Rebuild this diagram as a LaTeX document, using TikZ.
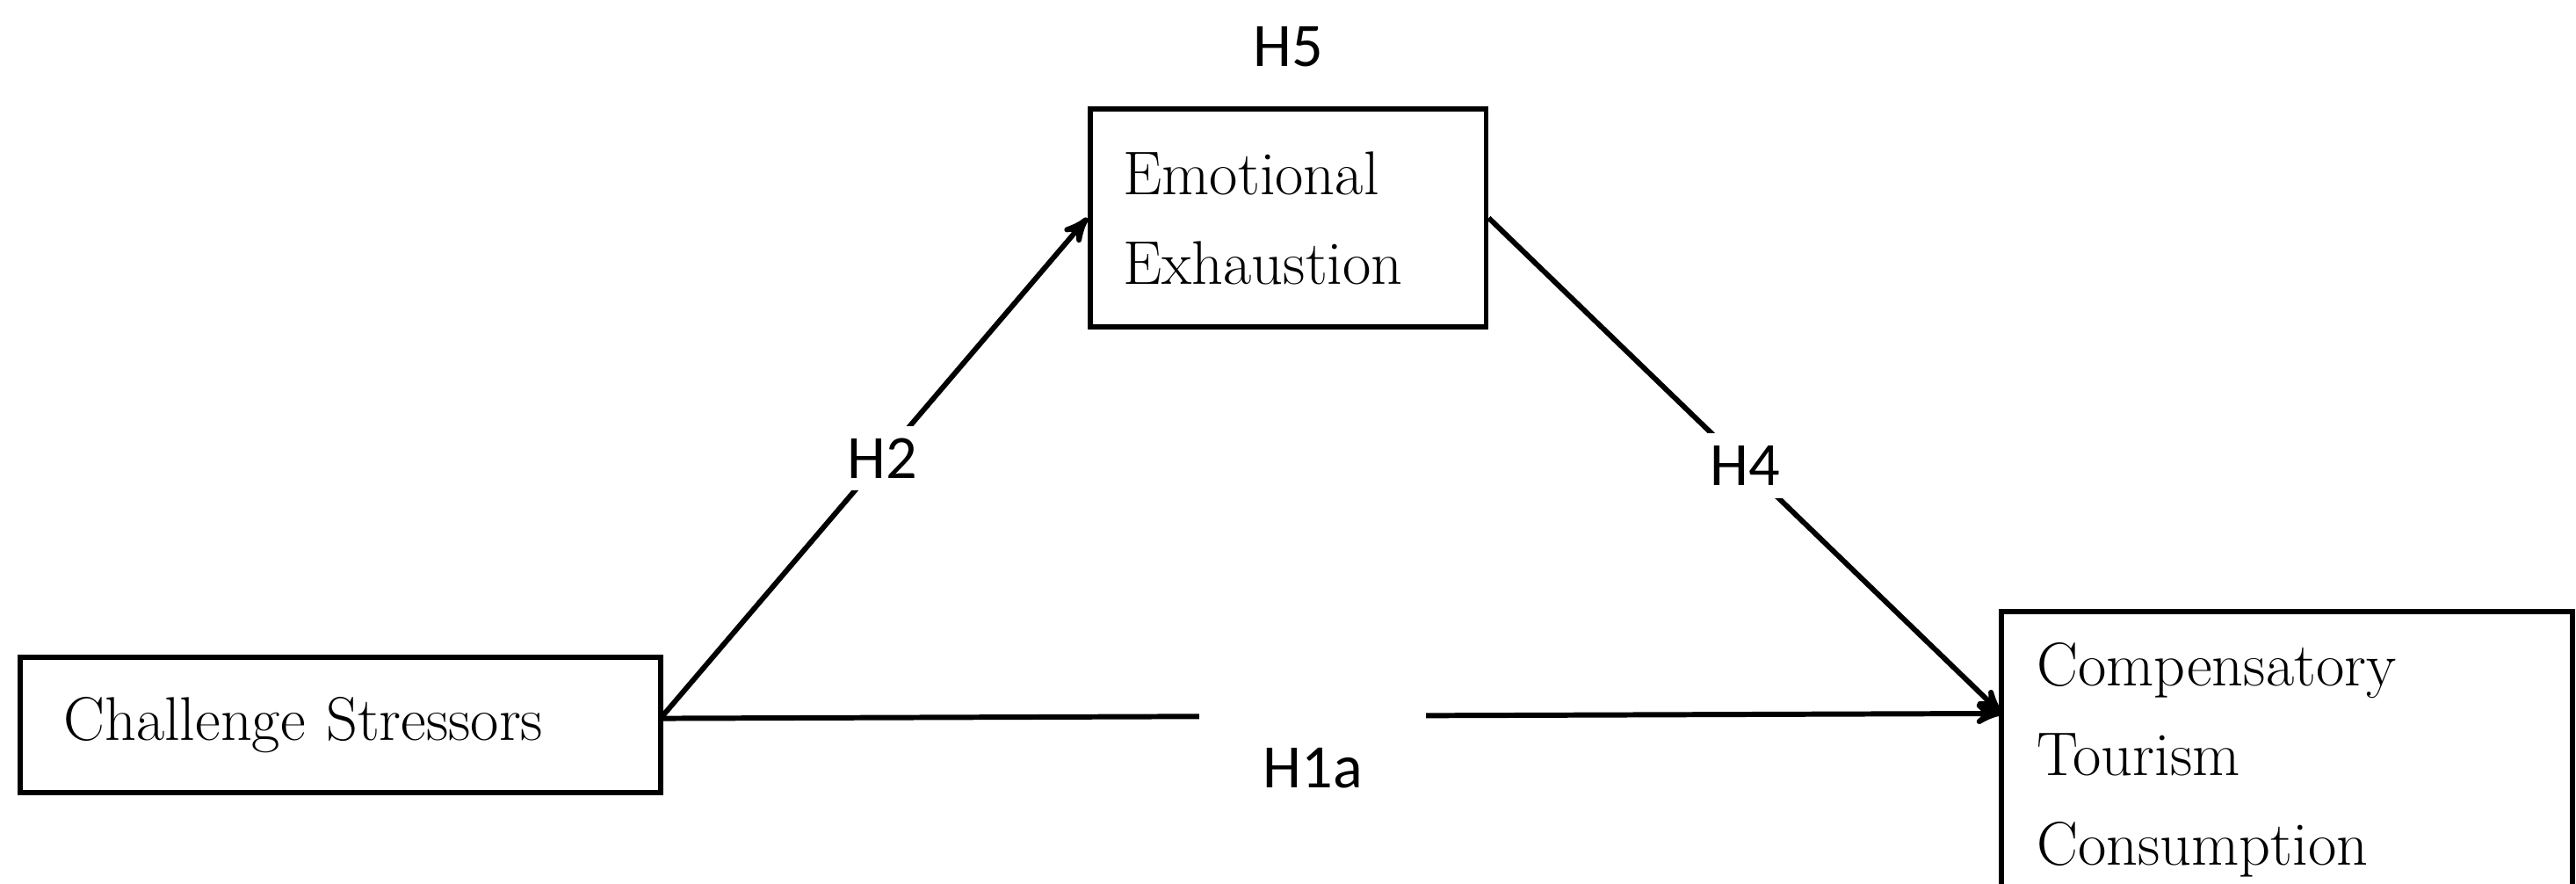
\documentclass[tikz,border=0pt]{standalone}
\usepackage{fontspec}
\newfontfamily\hfont{Carlito}
\usetikzlibrary{arrows, positioning}
\begin{document}
\begin{tikzpicture}[x=0.0188cm,y=-0.0188cm]
		\tikzstyle{Box} = [rectangle, draw=black, line width=1.7pt, align=left, font=\fontsize{20}{29}\selectfont, inner sep=0pt]
		\tikzstyle{Hyp} = [font=\hfont\fontsize{20}{24}\selectfont, fill=white, inner sep=4pt]
		\tikzstyle{arrow} = [line width=1.7pt,->,>=stealth']
		\useasboundingbox (0,0) rectangle (1560,535);

		\node (cs) [Box, minimum width=7.29cm, minimum height=1.54cm, text width=6.3cm] at (206,439) {Challenge Stressors};
		\node (ee) [Box, minimum width=4.51cm, minimum height=2.48cm, text width=3.75cm] at (780,132) {Emotional\\Exhaustion};
		\node (ctc) [Box, minimum width=6.50cm, minimum height=3.38cm, text width=5.7cm] at (1385,460) {Compensatory\\Tourism\\Consumption};
		\coordinate (csr) at (400,435);
		\coordinate (ctcl) at (1212,432);
		\coordinate (gap) at (795,434);

		\draw [arrow] (csr) -- node[Hyp, pos=0.52] {H2} (ee.west);
		\draw [arrow] (ee.east) -- node[Hyp, pos=0.5] {H4} (ctcl);
		\draw [arrow] (csr) -- (ctcl);
		\node (gapbox) [fill=white, minimum width=2.58cm, minimum height=0.2cm, inner sep=0pt] at (gap) {};
		\node (h1a) [Hyp, below = 0.1cm of gapbox] {H1a};
		\node (h5) [Hyp, above = 0.3cm of ee] {H5};
		\end{tikzpicture}
\end{document}
